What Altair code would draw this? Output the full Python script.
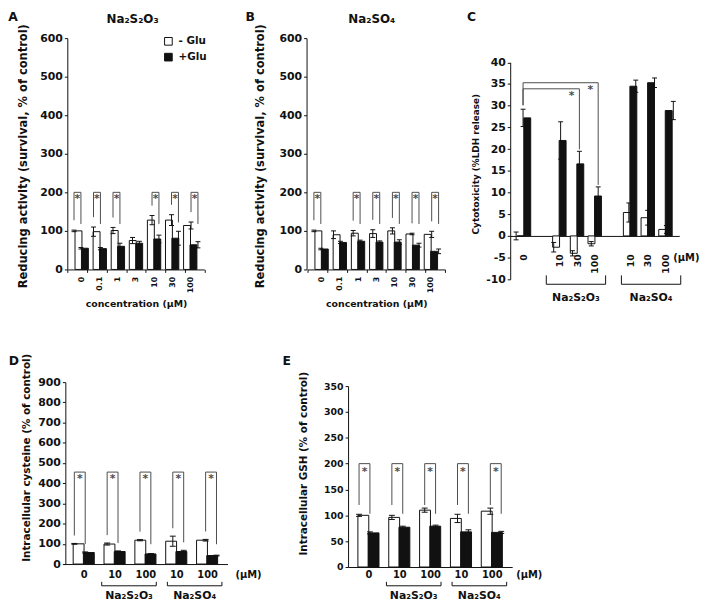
import altair as alt
import pandas as pd

W, H, M = 701, 600, 8
FONT = "DejaVu Sans"
INK = "#111111"
GREY = "#4d4d4d"
GLU = ["- Glu", "+Glu"]
S2O3 = "Na₂S₂O₃"
SO4 = "Na₂SO₄"
UM = "(μM)"

# ---------------- data ----------------
# A : Na2S2O3, reducing activity
a_conc = ["0", "0.1", "1", "3", "10", "30", "100"]
a_minus = [100, 98, 101, 75, 128, 128, 114]
a_minus_err = [2, 12, 8, 8, 12, 14, 9]
a_plus = [55, 54, 60, 68, 79, 81, 64]
a_plus_err = [2, 3, 8, 5, 10, 18, 8]
a_sig = [True, True, True, False, True, True, True]

# B : Na2SO4, reducing activity
b_conc = ["0", "0.1", "1", "3", "10", "30", "100"]
b_minus = [100, 90, 94, 93, 100, 92, 91]
b_minus_err = [2, 10, 7, 10, 8, 2, 8]
b_plus = [53, 70, 73, 71, 71, 63, 47]
b_plus_err = [2, 3, 3, 3, 6, 5, 6]
b_sig = [True, False, True, True, True, True, True]

# C : cytotoxicity (%LDH release)
c_conc = ["0", "10", "30", "100", "10", "30", "100"]
c_slot = [0, 2, 3, 4, 6, 7, 8]
c_minus = [0.0, -2.6, -4.0, -1.8, 5.4, 4.2, 1.5]
c_minus_err = [0.9, 1.1, 0.6, 0.5, 2.2, 1.7, 0.9]
c_plus = [27.2, 22.0, 16.6, 9.2, 34.5, 35.3, 28.9]
c_plus_err = [2.0, 4.3, 2.9, 2.1, 1.4, 1.1, 2.1]
c_cmp_target = [3, 4]
c_cmp_top = [33.9, 35.3]
c_groups = [(S2O3, 2, 4), (SO4, 6, 8)]

# D / E : intracellular cysteine / GSH
de_conc = ["0", "10", "100", "10", "100"]
de_slot = [0, 1, 2, 3, 4]
de_groups = [(S2O3, 1, 2), (SO4, 3, 4)]
d_minus = [100, 99, 118, 113, 118]
d_minus_err = [2, 5, 3, 25, 4]
d_plus = [57, 62, 50, 62, 42]
d_plus_err = [3, 3, 2, 6, 2]
e_minus = [100, 96, 110, 94, 108]
e_minus_err = [2, 4, 4, 8, 6]
e_plus = [66, 77, 79, 68, 67]
e_plus_err = [2, 2, 2, 4, 2]

# ---------------- layout (page pixels) ----------------
GA = dict(n=7, x0=68.4, x1=206.5, ydom=[0, 600], yb=269, yt=35, yax=68, bar=7, cap=5)
GB = dict(n=7, x0=311, x1=450, ydom=[0, 600], yb=269, yt=35, yax=310, bar=7, cap=5)
GC = dict(n=9, x0=516, x1=687, ydom=[-10, 40], yb=279, yt=59.5, yax=516, bar=7, cap=5)
GD = dict(n=5, x0=64, x1=230, ydom=[0, 900], yb=567, yt=383, yax=66, bar=11, cap=6)
GE = dict(n=5, x0=352, x1=518, ydom=[0, 350], yb=570, yt=387, yax=352, bar=11, cap=6)

FILL = alt.Fill(
    "cond:N",
    scale=alt.Scale(domain=GLU, range=["white", INK]),
    legend=alt.Legend(
        title=None, orient="none", legendX=165 - M, legendY=33 - M, direction="vertical",
        symbolType="square", symbolSize=60, symbolStrokeColor=INK, symbolStrokeWidth=1,
        labelFont=FONT, labelFontWeight="bold", labelFontSize=10.5, labelColor=INK,
        rowPadding=3, padding=0, labelOffset=5,
    ),
)


def scales(g):
    xs = alt.Scale(domain=[-0.5, g["n"] - 0.5], range=[g["x0"] - M, g["x1"] - M], nice=False, zero=False)
    ys = alt.Scale(domain=g["ydom"], range=[g["yb"] - M, g["yt"] - M], nice=False, zero=False)
    return xs, ys


def ppu(g):
    return (g["yb"] - g["yt"]) / (g["ydom"][1] - g["ydom"][0])


def ypix(g, v):
    return g["yb"] - (v - g["ydom"][0]) * ppu(g)


def half(g):
    return g["bar"] / 2 / ((g["x1"] - g["x0"]) / g["n"])


def bars_df(g, slots, minus, me, plus, pe):
    h = half(g)
    rows = []
    for s, m, e1, p, e2 in zip(slots, minus, me, plus, pe):
        rows.append({"slot": s, "pos": s - h, "cond": GLU[0], "v": m, "lo": m - e1, "hi": m + e1})
        rows.append({"slot": s, "pos": s + h, "cond": GLU[1], "v": p, "lo": p - e2, "hi": p + e2})
    return pd.DataFrame(rows)


def label_expr(n, slots, labels):
    arr = [""] * n
    for s, l in zip(slots, labels):
        arr[s] = l
    return "[" + ",".join("'" + t + "'" for t in arr) + "][datum.value]"


def yaxis(g, values, lsize, title, tsize, tcx, tcy):
    return alt.Axis(
        orient="left", offset=-(g["yax"] - M), values=values, labelExpr="'' + datum.value",
        labelFontSize=lsize, tickSize=3, labelPadding=2, grid=False,
        title=title, titleFontSize=tsize, titleX=tcx - g["yax"], titleY=tcy - M,
        titleAngle=270, titleAlign="center", titleBaseline="middle",
    )


def core(g, df, xax, yax):
    xs, ys = scales(g)
    X = lambda f: alt.X(f, type="quantitative", scale=xs, axis=None)
    Y = lambda f: alt.Y(f, type="quantitative", scale=ys, axis=None)
    bars = alt.Chart(df).mark_bar(size=g["bar"], stroke=INK, strokeWidth=1, opacity=1).encode(
        x=alt.X("pos:Q", scale=xs, axis=xax),
        y=alt.Y("v:Q", scale=ys, axis=yax),
        y2=alt.Y2(datum=0),
        fill=FILL,
    )
    err = alt.Chart(df).mark_rule(color=INK, strokeWidth=1, opacity=1).encode(
        x=X("pos"), y=Y("lo"), y2=alt.Y2("hi:Q"))
    cap_lo = alt.Chart(df).mark_tick(orient="horizontal", size=g["cap"], thickness=1, color=INK, opacity=1).encode(
        x=X("pos"), y=Y("lo"))
    cap_hi = alt.Chart(df).mark_tick(orient="horizontal", size=g["cap"], thickness=1, color=INK, opacity=1).encode(
        x=X("pos"), y=Y("hi"))
    return [bars, err, cap_lo, cap_hi]


def sig_layers(g, slots, sig, minus, me, plus, pe, top, gl_px, fl_l, gr_px, fl_r, star_dy):
    xs, ys = scales(g)
    X = lambda f: alt.X(f, type="quantitative", scale=xs, axis=None)
    Y = lambda f: alt.Y(f, type="quantitative", scale=ys, axis=None)
    h = half(g)
    k = ppu(g)
    rows = []
    for s, ok, m, e1, p, e2 in zip(slots, sig, minus, me, plus, pe):
        if ok:
            rows.append({
                "xw": s - h, "xb": s + h, "xm": s, "top": top,
                "yl": max(m + e1 + gl_px / k, fl_l), "yr": max(p + e2 + gr_px / k, fl_r),
            })
    sd = pd.DataFrame(rows)
    left = alt.Chart(sd).mark_rule(color=GREY, strokeWidth=1).encode(x=X("xw"), y=Y("yl"), y2=alt.Y2("top:Q"))
    right = alt.Chart(sd).mark_rule(color=GREY, strokeWidth=1).encode(x=X("xb"), y=Y("yr"), y2=alt.Y2("top:Q"))
    hor = alt.Chart(sd).mark_rule(color=GREY, strokeWidth=1).encode(x=X("xw"), x2=alt.X2("xb:Q"), y=Y("top"))
    star = alt.Chart(sd).mark_text(text="*", font=FONT, fontWeight="bold", fontSize=11, color=GREY,
                                   baseline="top", dy=star_dy).encode(x=X("xm"), y=Y("top"))
    return [left, right, hor, star]


def group_layers(g, groups, base, off_line, off_tick, off_lab, ext, size):
    xs, ys = scales(g)
    X = lambda f: alt.X(f, type="quantitative", scale=xs, axis=None)
    Yb = alt.Y(datum=base, type="quantitative", scale=ys, axis=None)
    gd = pd.DataFrame([{"name": nm, "a": a, "b": b, "mid": (a + b) / 2} for nm, a, b in groups])
    line = alt.Chart(gd).mark_rule(color=INK, strokeWidth=1, xOffset=-ext, x2Offset=ext, yOffset=off_line).encode(
        x=X("a"), x2=alt.X2("b:Q"), y=Yb)
    tl = alt.Chart(gd).mark_rule(color=INK, strokeWidth=1, xOffset=-ext, yOffset=off_tick, y2Offset=off_line).encode(
        x=X("a"), y=Yb, y2=alt.Y2(datum=base))
    tr = alt.Chart(gd).mark_rule(color=INK, strokeWidth=1, xOffset=ext, yOffset=off_tick, y2Offset=off_line).encode(
        x=X("b"), y=Yb, y2=alt.Y2(datum=base))
    lab = alt.Chart(gd).mark_text(font=FONT, fontWeight="bold", fontSize=size, color=INK,
                                  baseline="middle", dy=off_lab).encode(x=X("mid"), y=Yb, text="name:N")
    return [line, tl, tr, lab]


def unit_label(g, base, dx, dy, size):
    xs, ys = scales(g)
    return alt.Chart(pd.DataFrame({"t": [UM]})).mark_text(
        font=FONT, fontWeight="bold", fontSize=size, color=INK, align="left", baseline="middle", dx=dx, dy=dy
    ).encode(
        x=alt.X(datum=g["n"] - 0.5, type="quantitative", scale=xs, axis=None),
        y=alt.Y(datum=base, type="quantitative", scale=ys, axis=None),
        text="t:N",
    )


def boundary_ticks(g, df, base_y):
    xs, _ = scales(g)
    ax = alt.Axis(orient="bottom", offset=(base_y - M) - H, values=[i - 0.5 for i in range(g["n"] + 1)],
                  labels=False, domain=False, ticks=True, tickSize=3, title=None, grid=False)
    return alt.Chart(df).mark_point(opacity=0).encode(x=alt.X("pos:Q", scale=xs, axis=ax))


def txt(s, x, y, size, **kw):
    return alt.Chart(pd.DataFrame({"t": [s]})).mark_text(
        font=FONT, fontWeight="bold", fontSize=size, color=INK, **kw
    ).encode(text="t:N", x=alt.value(x - M), y=alt.value(y - M))


layers = []

# ---------- panels A and B ----------
for g, conc, mi, mie, pl, ple, sig, cx, ttl in [
    (GA, a_conc, a_minus, a_minus_err, a_plus, a_plus_err, a_sig, 24, S2O3),
    (GB, b_conc, b_minus, b_minus_err, b_plus, b_plus_err, b_sig, 263, SO4),
]:
    slots = list(range(7))
    df = bars_df(g, slots, mi, mie, pl, ple)
    xax = alt.Axis(
        orient="bottom", offset=(g["yb"] - M) - H, values=slots, labelExpr=label_expr(7, slots, conc),
        labelAngle=270, labelFontSize=8, labelPadding=7, ticks=False, labelFlush=False, labelOverlap=False,
        grid=False, title="concentration " + UM, titleFontSize=9.5,
        titleX=(g["x0"] + g["x1"]) / 2 - M, titleY=303 - g["yb"], titleAlign="center", titleBaseline="middle",
    )
    yax = yaxis(g, list(range(0, 601, 100)), 11, "Reducing activity (survival, % of control)", 11.6, cx, 154)
    layers += core(g, df, xax, yax)
    layers.append(boundary_ticks(g, df, g["yb"]))
    layers += sig_layers(g, slots, sig, mi, mie, pl, ple, 200, 10, 0, 9, 118, 1)

# ---------- panel C ----------
dfc = bars_df(GC, c_slot, c_minus, c_minus_err, c_plus, c_plus_err)
c_zero = ypix(GC, 0)
xax_c = alt.Axis(
    orient="bottom", offset=(c_zero - M) - H, values=c_slot, labelExpr=label_expr(9, c_slot, c_conc),
    labelAngle=270, labelFontSize=9.5, labelPadding=18, ticks=False, labelFlush=False, labelOverlap=False,
    grid=False, title=None,
)
yax_c = yaxis(GC, list(range(-10, 41, 5)), 11, "Cytotoxicity (%LDH release)", 9, 481, 162)
layers += core(GC, dfc, xax_c, yax_c)

xs_c, ys_c = scales(GC)
hc = half(GC)
ctrl_top = c_plus[0] + c_plus_err[0]
cmp_rows = []
for t, top in zip(c_cmp_target, c_cmp_top):
    i = c_slot.index(t)
    cmp_rows.append({"xl": 0 + hc, "xr": t + hc, "top": top, "yl": ctrl_top + 4 / ppu(GC),
                     "yr": c_plus[i] + c_plus_err[i] + 2 / ppu(GC)})
cmp = pd.DataFrame(cmp_rows)
XC = lambda f: alt.X(f, type="quantitative", scale=xs_c, axis=None)
YC = lambda f: alt.Y(f, type="quantitative", scale=ys_c, axis=None)
layers += [
    alt.Chart(cmp).mark_rule(color=GREY, strokeWidth=1).encode(x=XC("xl"), y=YC("yl"), y2=alt.Y2("top:Q")),
    alt.Chart(cmp).mark_rule(color=GREY, strokeWidth=1).encode(x=XC("xr"), y=YC("yr"), y2=alt.Y2("top:Q")),
    alt.Chart(cmp).mark_rule(color=GREY, strokeWidth=1).encode(x=XC("xl"), x2=alt.X2("xr:Q"), y=YC("top")),
    alt.Chart(cmp).mark_text(text="*", font=FONT, fontWeight="bold", fontSize=11, color=GREY,
                             baseline="top", dx=-8, dy=1).encode(x=XC("xr"), y=YC("top")),
]
layers += group_layers(GC, c_groups, -10, 5, -4, 19, 11, 11)
layers.append(unit_label(GC, 0, -6, 22, 10))

# ---------- panels D and E ----------
for g, mi, mie, pl, ple, ttl, tcx, tcy, lsize, top, gl, fl, gr, fr, sdy, lpad, line_off in [
    (GD, d_minus, d_minus_err, d_plus, d_plus_err, "Intracellular cysteine (% of control)", 27, 459, 11,
     455, 8, 140, 8, 98, 1, 6, 22),
    (GE, e_minus, e_minus_err, e_plus, e_plus_err, "Intracellular GSH (% of control)", 307, 465, 9.5,
     200, 3, 120, 3, 103, 2, 3, 19),
]:
    df = bars_df(g, de_slot, mi, mie, pl, ple)
    xax = alt.Axis(
        orient="bottom", offset=(g["yb"] - M) - H, values=de_slot, labelExpr=label_expr(5, de_slot, de_conc),
        labelAngle=0, labelFontSize=10, labelPadding=lpad, labelBaseline="top", ticks=False,
        labelFlush=False, labelOverlap=False, grid=False, title=None,
    )
    ymax = g["ydom"][1]
    step = 100 if ymax == 900 else 50
    yax = yaxis(g, list(range(0, ymax + 1, step)), lsize, ttl, 10.5, tcx, tcy)
    layers += core(g, df, xax, yax)
    layers += sig_layers(g, de_slot, [True] * 5, mi, mie, pl, ple, top, gl, fl, gr, fr, sdy)
    layers += group_layers(g, de_groups, 0, line_off, line_off - 4, line_off + 10, 11, 11)
    layers.append(unit_label(g, 0, 8 if g is GD else 4, 11 if g is GD else 8, 10))

# ---------- titles and panel letters ----------
layers += [
    txt(S2O3, 134, 19.5, 12, baseline="alphabetic"),
    txt(SO4, 376, 20, 12, baseline="alphabetic"),
    txt("A", 13, 13.5, 12.5),
    txt("B", 253, 13.5, 12.5),
    txt("C", 477, 13.5, 12.5),
    txt("D", 14, 362, 12.5),
    txt("E", 290, 362, 12.5),
]

chart = (
    alt.layer(*layers)
    .resolve_scale(x="independent", y="independent")
    .resolve_axis(x="independent", y="independent")
    .properties(width=W, height=H, autosize=alt.AutoSizeParams(type="none"), padding=0)
    .configure_view(stroke=None)
    .configure_axis(
        labelFont=FONT, labelFontWeight="bold", labelColor=INK, titleFont=FONT, titleFontWeight="bold",
        titleColor=INK, domainColor=INK, tickColor=INK, grid=False, domainWidth=1, tickWidth=1,
    )
)

chart.save("out.html", embed_options={"renderer": "svg", "actions": False})
